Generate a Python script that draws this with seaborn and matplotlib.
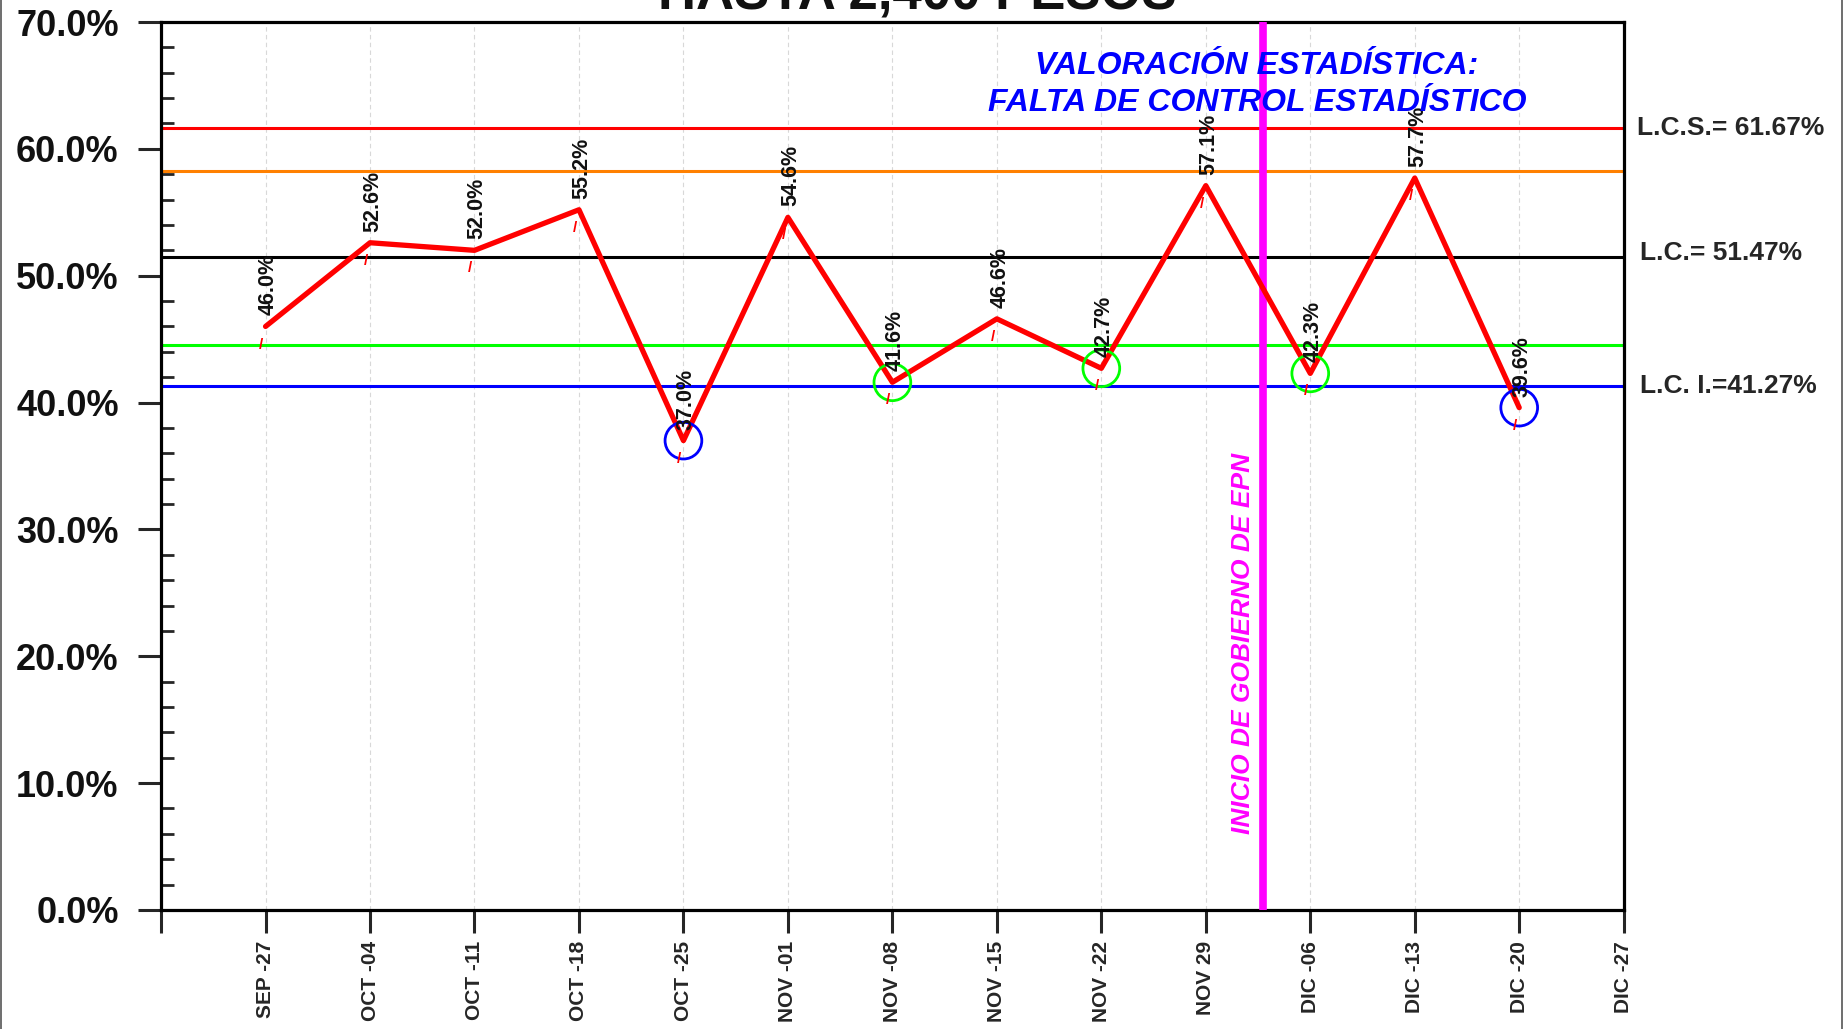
import numpy as np
import pandas as pd
import matplotlib
matplotlib.use("Agg")
import matplotlib.pyplot as plt
import matplotlib.transforms as mtransforms
from matplotlib.lines import Line2D
from matplotlib.ticker import MultipleLocator, FuncFormatter
import seaborn as sns

# weekly labels on the x axis (position 0 has no label)
week_labels = ['', 'SEP -27', 'OCT -04', 'OCT -11', 'OCT -18', 'OCT -25', 'NOV -01',
               'NOV -08', 'NOV -15', 'NOV -22', 'NOV 29', 'DIC -06', 'DIC -13',
               'DIC -20', 'DIC -27']
# observed proportion (%) for SEP -27 .. DIC -20
values = [46.0, 52.6, 52.0, 55.2, 37.0, 54.6, 41.6, 46.6, 42.7, 57.1, 42.3, 57.7, 39.6]

# control limits (%)
lcs = 61.67
lc = 51.47
lci = 41.27
upper_2s = 58.27
lower_2s = 44.54
epn_start = 10.55   # between NOV 29 and DIC -06

title = 'HASTA 2,400 PESOS'
note = 'VALORACIÓN ESTADÍSTICA:\nFALTA DE CONTROL ESTADÍSTICO'
epn_text = 'INICIO DE GOBIERNO DE EPN'

df = pd.DataFrame({'pos': np.arange(1, len(values) + 1), 'val': values})

sns.set_style('white')
plt.rcParams['font.family'] = ['Liberation Sans', 'DejaVu Sans']
plt.rcParams['font.weight'] = 'bold'

fig = plt.figure(figsize=(18.43, 10.29), dpi=100)
ax = fig.add_axes([0.0874, 0.1157, 0.7936, 0.8629])

# control lines
for y, c in [(lcs, '#FF0000'), (upper_2s, '#FF8000'), (lc, '#000000'),
             (lower_2s, '#00FF00'), (lci, '#0000FF')]:
    ax.axhline(y, color=c, lw=2.2, zorder=2)

ax.axvline(epn_start, color='#FF00FF', lw=5.5, zorder=3)

sns.lineplot(data=df, x='pos', y='val', ax=ax, color='#FF0000', lw=3.8, zorder=4)

# circled points: below LCI (blue) and between LCI and lower 2-sigma (green)
below = df[df['val'] < lci]
warn = df[(df['val'] >= lci) & (df['val'] < lower_2s)]
sns.scatterplot(data=below, x='pos', y='val', ax=ax, s=700, facecolors='none',
                edgecolor='#0000FF', linewidth=2, marker='o', zorder=5)
sns.scatterplot(data=warn, x='pos', y='val', ax=ax, s=700, facecolors='none',
                edgecolor='#00FF00', linewidth=2, marker='o', zorder=5)

for x, v in zip(df['pos'], df['val']):
    ax.annotate(f'{v:.1f}%', xy=(x, v), xytext=(2, 8), textcoords='offset points',
                rotation=90, ha='center', va='bottom', fontsize=15.5,
                fontweight='bold', color='#111111', zorder=6)
    ax.annotate('/', xy=(x, v), xytext=(-3, -13), textcoords='offset points',
                ha='center', va='center', fontsize=11, color='#FF0000', zorder=6)

ax.text(10.36, 21.0, epn_text, rotation=90, color='#FF00FF', fontsize=19,
        fontweight='bold', style='italic', ha='center', va='center', zorder=6)
ax.text(10.49, 65.1, note, color='#0000FF', fontsize=23, fontweight='bold',
        style='italic', ha='center', va='center', linespacing=1.3, zorder=6)

trans = mtransforms.blended_transform_factory(ax.transAxes, ax.transData)
ax.text(1.009, lcs, f'L.C.S.= {lcs:.2f}%', transform=trans, fontsize=19,
        fontweight='bold', va='center', ha='left', clip_on=False)
ax.text(1.011, lc + 0.3, f'L.C.= {lc:.2f}%', transform=trans, fontsize=19,
        fontweight='bold', va='center', ha='left', clip_on=False)
ax.text(1.011, lci, f'L.C. I.={lci:.2f}%', transform=trans, fontsize=19,
        fontweight='bold', va='center', ha='left', clip_on=False)

ax.set_xlim(0, len(week_labels) - 1)
ax.set_ylim(0, 70)
ax.set_xticks(np.arange(len(week_labels)))
ax.set_xticklabels(week_labels, rotation=90, fontsize=15, fontweight='bold')
ax.yaxis.set_major_locator(MultipleLocator(10))
ax.yaxis.set_minor_locator(MultipleLocator(2))
ax.yaxis.set_major_formatter(FuncFormatter(lambda v, p: f'{v:.1f}%'))
for lab in ax.get_yticklabels():
    lab.set_fontsize(26)
    lab.set_fontweight('bold')
    lab.set_color('#111111')
ax.tick_params(axis='y', which='major', direction='out', length=16.5, width=2.2,
               pad=14, labelsize=26, left=True)
ax.tick_params(axis='y', which='minor', direction='in', length=9, width=2, left=True)
ax.tick_params(axis='x', which='major', direction='out', length=16.5, width=2.2,
               pad=6, bottom=True)
ax.set_xlabel('')
ax.set_ylabel('')

ax.grid(axis='x', color='#D8D8D8', linestyle=(0, (4, 3)), lw=0.8)
ax.set_axisbelow(True)
for sp in ax.spines.values():
    sp.set_visible(True)
    sp.set_color('black')
    sp.set_linewidth(2.3)

fig.text(0.4976, 1 - 10 / 1029, title, ha='center', va='baseline', fontsize=38,
         fontweight='bold', color='#111111')

# thin border of the picture
fig.add_artist(Line2D([0.0005, 0.0005], [0, 1], transform=fig.transFigure,
                      color='#555555', lw=1.2))
fig.add_artist(Line2D([0.9995, 0.9995], [0, 1], transform=fig.transFigure,
                      color='#555555', lw=1.2))

fig.savefig('out.png', dpi=100)
